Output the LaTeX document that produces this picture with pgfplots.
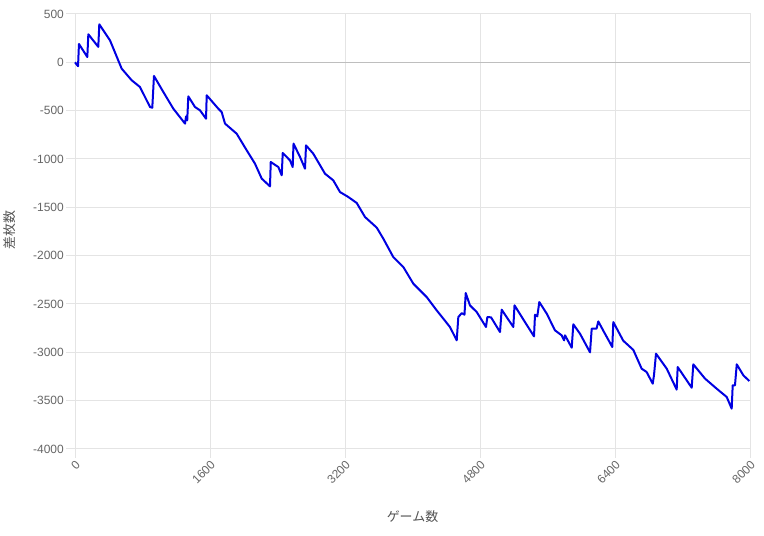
\documentclass[border=0pt]{standalone}
\usepackage{pgfplots}
\pgfplotsset{compat=1.18}
\usepackage{fontspec}
\setmainfont{Liberation Sans}
\newfontfamily\jp{Noto Sans CJK JP}
\definecolor{gridc}{RGB}{228,228,228}
\definecolor{zeroc}{RGB}{190,190,190}
\definecolor{tickc}{RGB}{102,102,102}
\definecolor{linec}{RGB}{0,0,225}
\begin{document}
\begin{tikzpicture}
\path[use as bounding box] (0,0) rectangle (764bp,536bp);
\begin{axis}[
  at={(75bp,87bp)}, anchor=south west,
  scale only axis, width=675bp, height=435bp,
  xmin=0, xmax=8000, ymin=-4000, ymax=500,
  xtick={0,1600,...,8000}, ytick={-4000,-3500,...,500},
  grid=major, major grid style={gridc, line width=1bp},
  axis line style={gridc, line width=1bp},
  tick align=outside, major tick length=9bp,
  tick style={gridc, line width=1bp},
  xtick pos=lower, ytick pos=left,
  ticklabel style={font=\fontsize{12}{14}\selectfont, text=tickc},
  /pgf/number format/assume math mode=true,
  /pgf/number format/1000 sep={},
  xticklabel style={rotate=45, anchor=north east, inner sep=1bp},
  yticklabel style={inner sep=2bp},
  xlabel={ゲーム数}, ylabel={差枚数},
  xlabel style={at={(axis description cs:0.5,-0.156)}, anchor=center, font=\jp\fontsize{13}{15}\selectfont, text=tickc!80!black},
  ylabel style={at={(axis description cs:-0.0963,0.503)}, anchor=center, font=\jp\fontsize{13}{15}\selectfont, text=tickc!80!black},
  clip=false,
]
\draw[zeroc, line width=1bp] (axis cs:0,0) -- (axis cs:8000,0);
\addplot[linec, line width=2bp, line join=round] coordinates {
(0,0) (36,-40) (47,190) (146,55) (158,290) (276,160) (288,393)
(415,227) (553,-65) (672,-186) (770,-255) (889,-462) (916,-470)
(936,-141) (1047,-307) (1165,-479) (1304,-634) (1316,-560) (1330,-600) (1343,-352)
(1422,-462) (1482,-497) (1553,-583) (1561,-341) (1698,-479) (1738,-514)
(1778,-634) (1916,-738) (2035,-910) (2133,-1048) (2213,-1203) (2311,-1283)
(2320,-1031) (2410,-1083) (2450,-1169) (2462,-938) (2548,-1014) (2580,-1083)
(2590,-841) (2667,-979) (2726,-1100) (2738,-859) (2824,-945) (2963,-1152)
(3061,-1221) (3141,-1342) (3239,-1393) (3339,-1455) (3437,-1600) (3576,-1710)
(3654,-1824) (3772,-2014) (3891,-2117) (4010,-2290) (4168,-2428) (4287,-2566)
(4444,-2738) (4524,-2876) (4543,-2635) (4583,-2595) (4616,-2610) (4631,-2387)
(4681,-2514) (4761,-2583) (4871,-2738) (4887,-2635) (4931,-2638) (5037,-2790)
(5057,-2559) (5195,-2738) (5209,-2514) (5333,-2687) (5440,-2835) (5452,-2611)
(5479,-2628) (5503,-2480) (5591,-2600) (5689,-2773) (5768,-2824) (5796,-2876)
(5808,-2824) (5887,-2952) (5906,-2710) (5985,-2807) (6104,-3000) (6124,-2755)
(6181,-2755) (6202,-2680) (6270,-2790) (6368,-2945) (6380,-2687) (6498,-2880)
(6617,-2975) (6716,-3169) (6775,-3204) (6847,-3324) (6862,-3238) (6886,-3014)
(7013,-3169) (7131,-3386) (7143,-3152) (7309,-3366) (7328,-3124) (7467,-3272)
(7605,-3376) (7724,-3462) (7783,-3583) (7795,-3341) (7822,-3341) (7843,-3124)
(7921,-3238) (7992,-3297)
};
\end{axis}
\end{tikzpicture}
\end{document}
